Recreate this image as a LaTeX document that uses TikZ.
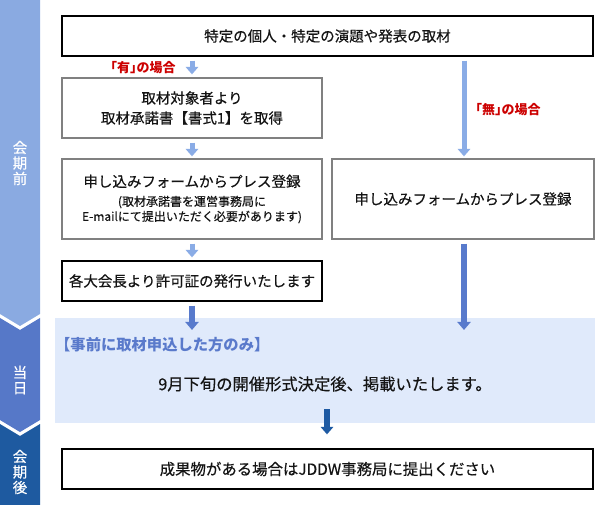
\documentclass[tikz,border=0pt]{standalone}
\usepackage{fontspec}
\setmainfont{Noto Sans CJK JP}[UprightFeatures={FakeBold=0.4}]
\newfontfamily\halffont{Noto Sans CJK JP}[RawFeature=+halt]
\usetikzlibrary{arrows.meta}
\definecolor{sideA}{RGB}{138,170,225}
\definecolor{sideB}{RGB}{86,120,200}
\definecolor{sideC}{RGB}{30,90,160}
\definecolor{arrA}{RGB}{138,172,230}
\definecolor{arrB}{RGB}{88,122,204}
\definecolor{arrC}{RGB}{30,90,163}
\definecolor{panelc}{RGB}{224,234,251}
\definecolor{redc}{RGB}{204,0,0}
\definecolor{boxgray}{RGB}{128,128,128}
\definecolor{txt}{RGB}{20,20,20}
\definecolor{plabc}{RGB}{90,122,203}
\begin{document}
\begin{tikzpicture}[x=1pt,y=-1pt,
  box/.style={draw=black, line width=1.3pt, fill=white, text=txt, inner sep=0pt,
    font=\fontsize{14.5}{20}\selectfont, align=center},
  gbox/.style={box, draw=boxgray},
  side/.style={text=white, font=\fontsize{14.5}{15.5}\selectfont, align=center, inner sep=0pt},
  redlab/.style={text=redc, font=\halffont\bfseries\fontsize{13}{15}\selectfont, inner sep=0pt},
  arrL/.style={draw=arrA, line width=5pt, -{Triangle[width=12.5pt,length=7.5pt]}},
  arrM/.style={draw=arrB, line width=6pt, -{Triangle[width=13pt,length=8pt]}},
  arrD/.style={draw=arrC, line width=6pt, -{Triangle[width=12.5pt,length=7.5pt]}}
]
\useasboundingbox (0,0) rectangle (595,505);
\fill[white] (0,0) rectangle (595,505);
% sidebar
\fill[sideA] (0,0) -- (40,0) -- (40,314) -- (20,326) -- (0,314) -- cycle;
\fill[sideB] (0,318) -- (20,330) -- (40,318) -- (40,420) -- (20,432) -- (0,420) -- cycle;
\fill[sideC] (0,424) -- (20,436) -- (40,424) -- (40,505) -- (0,505) -- cycle;
\node[side] (s1) at (20,163) {会\\期\\前};
\node[side] (s2) at (20,380) {当\\日};
\node[side] (s3) at (20,472) {会\\期\\後};
% panel
\node[fill=panelc, minimum width=540pt, minimum height=105pt, inner sep=0pt] (panel) at (325,370.5) {};
\node[anchor=west, text=plabc, font=\bfseries\fontsize{15.3}{17}\selectfont, inner sep=0pt] (plab) at (55,345) {【事前に取材申込した方のみ】};
\node[text=txt, font=\fontsize{16.3}{18}\selectfont, inner sep=0pt] (ptext) at (325,384) {9月下旬の開催形式決定後、掲載いたします。};
% boxes
\node[box, minimum width=531pt, minimum height=40pt] (b1) at (327.5,36) {特定の個人・特定の演題や発表の取材};
\node[gbox, minimum width=260pt, minimum height=60pt] (b2) at (192,108) {取材対象者より\\取材承諾書【書式1】を取得};
\node[gbox, minimum width=260pt, minimum height=80pt] (b3) at (192,199)
  {申し込みフォームからプレス登録\\[-1pt]{\fontsize{12}{15}\selectfont (取材承諾書を運営事務局に}\\[-5pt]{\fontsize{12}{15}\selectfont E-mailにて提出いただく必要があります)}};
\node[gbox, minimum width=262pt, minimum height=80pt] (rb) at (463,199) {申し込みフォームからプレス登録};
\node[box, minimum width=260pt, minimum height=40pt] (b4) at (192,281) {各大会長より許可証の発行いたします};
\node[box, minimum width=531pt, minimum height=40pt, font=\fontsize{15.4}{18}\selectfont] (fin) at (327.5,469) {成果物がある場合はJDDW事務局に提出ください};
% labels
\node[redlab] (l1) at (143,68) {「有」の場合};
\node[redlab] (l2) at (508,110) {「無」の場合};
% arrows
\coordinate (cx) at (192,0);
\coordinate (rx) at (464,0);
\coordinate (t1) at (192,330);
\coordinate (t2) at (464,330);
\coordinate (d0) at (327,409);
\draw[arrL, shorten <=4pt, shorten >=3pt] (b1.south -| cx) -- (b2.north -| cx);
\draw[arrL, shorten <=4pt, shorten >=2pt] (b2.south) -- (b3.north);
\draw[arrL, shorten <=4pt, shorten >=3pt] (b3.south) -- (b4.north);
\draw[arrL, shorten <=4pt, shorten >=2pt] (b1.south -| rx) -- (rb.north -| rx);
\draw[arrM, shorten <=4pt] (b4.south) -- (t1);
\draw[arrM, shorten <=4pt] (rb.south -| rx) -- (t2);
\draw[arrD, shorten >=14pt] (d0) -- (d0 |- fin.north);
\end{tikzpicture}
\end{document}
